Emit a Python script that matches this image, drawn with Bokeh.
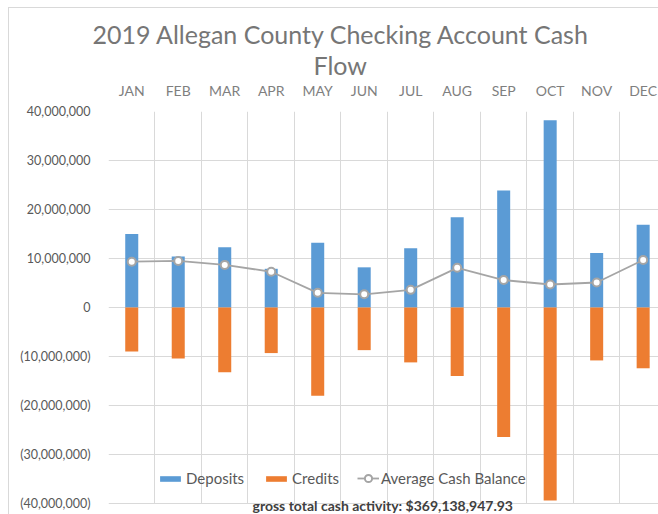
from bokeh.plotting import figure
from bokeh.models import Range1d, FixedTicker, Legend, LegendItem, Label, Title, BoxAnnotation
from bokeh.embed import file_html
from bokeh.resources import INLINE

# ---- data ----
months = ["JAN", "FEB", "MAR", "APR", "MAY", "JUN", "JUL", "AUG", "SEP", "OCT", "NOV", "DEC"]
deposits = [15.0e6, 10.4e6, 12.3e6, 7.9e6, 13.2e6, 8.2e6, 12.1e6, 18.4e6, 23.9e6, 38.2e6, 11.1e6, 16.9e6]
credits = [-9.0e6, -10.4e6, -13.2e6, -9.3e6, -18.0e6, -8.7e6, -11.2e6, -14.0e6, -26.4e6, -39.4e6, -10.8e6, -12.4e6]
avg_balance = [9.35e6, 9.5e6, 8.7e6, 7.3e6, 3.0e6, 2.7e6, 3.6e6, 8.1e6, 5.6e6, 4.7e6, 5.1e6, 9.7e6]
y_ticks = [-40000000, -30000000, -20000000, -10000000, 0, 10000000, 20000000, 30000000, 40000000]
y_tick_labels = ["(40,000,000)", "(30,000,000)", "(20,000,000)", "(10,000,000)", "0",
                 "10,000,000", "20,000,000", "30,000,000", "40,000,000"]
title_lines = ["2019 Allegan County Checking Account Cash", "Flow"]
footer_text = "gross total cash activity: $369,138,947.93"
series_names = ["Deposits", "Credits", "Average Cash Balance"]

FONT = "Lato"
xs = [i + 0.5 for i in range(len(months))]

p = figure(width=658, height=514, output_backend="svg", toolbar_location=None,
           x_range=Range1d(0, 11.83), y_range=Range1d(-42.24e6, 40e6),
           x_axis_location="above", y_axis_location="left",
           min_border_left=108, min_border_right=0, min_border_top=111, min_border_bottom=0)
p.outline_line_color = None
p.background_fill_color = "white"
p.border_fill_alpha = 0
# faint chart-area border (top and left edges, as in the reference)
p.styles = {"background": "linear-gradient(#d9d9d9,#d9d9d9) 8px 7px / 650px 1px no-repeat, "
                          "linear-gradient(#d9d9d9,#d9d9d9) 8px 7px / 1px 507px no-repeat, white"}

# axes
p.xaxis.ticker = FixedTicker(ticks=xs)
p.xaxis.major_label_overrides = {x: m for x, m in zip(xs, months)}
p.yaxis.ticker = FixedTicker(ticks=y_ticks)
p.yaxis.major_label_overrides = {t: l for t, l in zip(y_ticks, y_tick_labels)}
for ax in (p.xaxis, p.yaxis):
    ax.axis_line_color = None
    ax.major_tick_line_color = None
    ax.minor_tick_line_color = None
    ax.major_tick_out = 0
    ax.major_label_text_font = FONT
p.xaxis.major_label_text_font_size = "14px"
p.xaxis.major_label_text_color = "#7f7f7f"
p.xaxis.major_label_standoff = 13
p.yaxis.major_label_text_font_size = "12.5px"
p.yaxis.major_label_text_color = "#595959"
p.yaxis.major_label_standoff = 18

# grids
p.xgrid.ticker = FixedTicker(ticks=list(range(13)))
p.ygrid.ticker = FixedTicker(ticks=y_ticks)
for g in (p.xgrid, p.ygrid):
    g.grid_line_color = "#d9d9d9"
    g.grid_line_width = 1

# bars
r_dep = p.vbar(x=xs, top=deposits, bottom=0, width=0.28, fill_color="#5b9bd5", line_color=None)
r_cred = p.vbar(x=xs, top=0, bottom=credits, width=0.28, fill_color="#ed7d31", line_color=None)

# average line
r_line = p.line(x=xs, y=avg_balance, line_color="#a5a5a5", line_width=1.8)
r_pts = p.scatter(x=xs, y=avg_balance, size=8, marker="circle", fill_color="white",
                  line_color="#a5a5a5", line_width=2)

# white strip below the lowest gridline (footer area)
p.add_layout(BoxAnnotation(top=-40.1e6, fill_color="white", fill_alpha=1.0, line_color=None))

# legends
leg1 = Legend(items=[LegendItem(label=series_names[0], renderers=[r_dep]),
                     LegendItem(label=series_names[1], renderers=[r_cred])],
              orientation="horizontal", location=(49, 27), glyph_width=26, glyph_height=7,
              label_standoff=3, spacing=19, padding=0, margin=0,
              background_fill_alpha=0, border_line_color=None,
              label_text_font=FONT, label_text_font_size="15px", label_text_color="#595959")
leg2 = Legend(items=[LegendItem(label=series_names[2], renderers=[r_line, r_pts])],
              orientation="horizontal", location=(249, 27), glyph_width=22, glyph_height=18,
              label_standoff=2, spacing=20, padding=0, margin=0,
              background_fill_alpha=0, border_line_color=None,
              label_text_font=FONT, label_text_font_size="15px", label_text_color="#595959")
p.add_layout(leg1)
p.add_layout(leg2)

# title lines (stacked above the month axis)
p.add_layout(Title(text=title_lines[1], align="left", offset=205, standoff=-2,
                   text_font=FONT, text_font_size="25px", text_font_style="normal",
                   text_color="#767676"), "above")
p.add_layout(Title(text=title_lines[0], align="left", offset=-16, standoff=0,
                   text_font=FONT, text_font_size="25px", text_font_style="normal",
                   text_color="#767676"), "above")

# footer
p.add_layout(Label(x=144, y=9, x_units="screen", y_units="screen", text=footer_text,
                   text_align="left", text_baseline="alphabetic", text_font=FONT,
                   text_font_size="14px", text_font_style="bold", text_color="#404040"))

open("out.html", "w").write(file_html(p, INLINE))
